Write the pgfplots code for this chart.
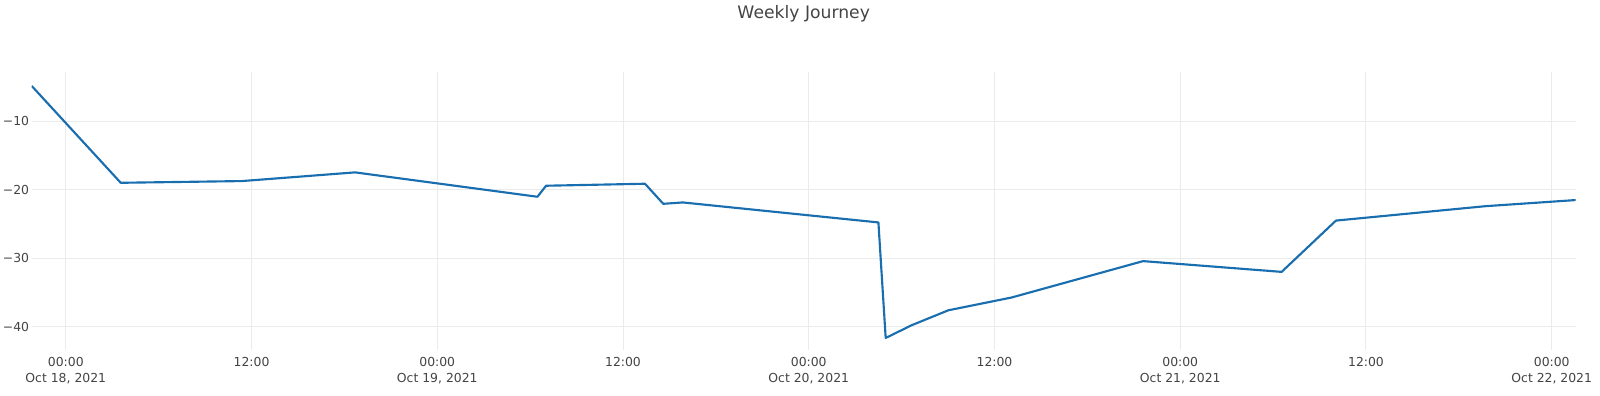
\documentclass[border=0pt]{standalone}
\usepackage{fontspec}
\setmainfont{DejaVu Sans}
\usepackage{pgfplots}
\pgfplotsset{compat=1.18}
\definecolor{linec}{RGB}{25,110,176}
\definecolor{gridc}{RGB}{235,235,235}
\definecolor{txt}{RGB}{68,68,68}
\begin{document}
\begin{tikzpicture}
\useasboundingbox (-23.8pt,-34.5pt) rectangle (1176.2pt,262.5pt);
\begin{axis}[
  at={(0pt,0pt)}, anchor=south west,
  width=1158pt, height=208.7pt, scale only axis,
  xmin=-2.2, xmax=97.55, ymin=-43.4, ymax=-2.76,
  axis line style={draw=none},
  major tick length=0pt,
  grid=major,
  grid style={gridc, line width=0.75pt},
  xtick={0,12,24,36,48,60,72,84,96},
  xticklabels={{00:00\\Oct 18, 2021},{12:00},{00:00\\Oct 19, 2021},{12:00},{00:00\\Oct 20, 2021},{12:00},{00:00\\Oct 21, 2021},{12:00},{00:00\\Oct 22, 2021}},
  xticklabel style={align=center, anchor=north, inner sep=0pt, yshift=-5.3pt, text=txt, font=\fontsize{9.3}{11.7}\selectfont},
  ytick={-40,-30,-20,-10},
  yticklabels={−40,−30,−20,−10},
  yticklabel style={anchor=east, inner sep=0pt, xshift=-1.8pt, text=txt, font=\fontsize{9.3}{11}\selectfont},
  title={Weekly Journey},
  title style={at={(0.5,1)}, anchor=center, yshift=37.3pt, inner sep=0pt, text=txt, font=\fontsize{12.9}{15}\selectfont},
]
\addplot[linec, line width=1.6pt, line join=round] coordinates {
(-2.2,-4.84)
(3.55,-18.98)
(11.37,-18.73)
(18.69,-17.46)
(30.47,-21.02)
(31.03,-19.41)
(37.42,-19.12)
(38.6,-22.05)
(39.86,-21.85)
(52.5,-24.77)
(52.97,-41.64)
(54.65,-39.78)
(57.02,-37.6)
(61.11,-35.73)
(69.6,-30.42)
(78.55,-31.99)
(82.06,-24.5)
(91.7,-22.4)
(97.55,-21.5)
};
\end{axis}
\end{tikzpicture}
\end{document}
